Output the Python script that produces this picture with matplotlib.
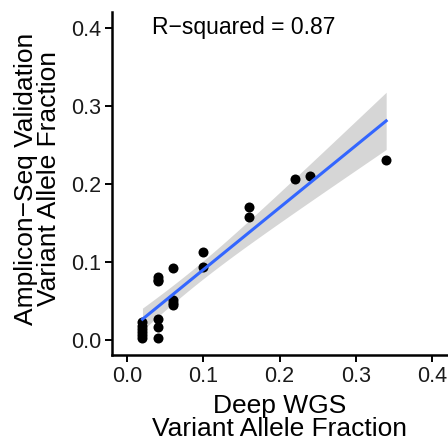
import matplotlib
matplotlib.use("Agg")
import matplotlib.pyplot as plt
import numpy as np

plt.rcParams["font.family"] = ["Liberation Sans", "DejaVu Sans"]

# Deep WGS VAF vs amplicon-seq validation VAF
wgs_vaf = [0.02, 0.02, 0.02, 0.02, 0.02, 0.02,
           0.04, 0.04, 0.04, 0.04, 0.04, 0.04,
           0.06, 0.06, 0.06, 0.06,
           0.10, 0.10,
           0.16, 0.16,
           0.22, 0.24, 0.34]
amp_vaf = [0.002, 0.006, 0.010, 0.014, 0.018, 0.022,
           0.027, 0.016, 0.002, 0.080, 0.075, 0.077,
           0.092, 0.051, 0.044, 0.047,
           0.112, 0.093,
           0.170, 0.157,
           0.206, 0.210, 0.230]
r_squared_text = "R\u2212squared = 0.87"

x = np.array(wgs_vaf)
y = np.array(amp_vaf)
n = len(x)
slope, intercept = np.polyfit(x, y, 1)
resid = y - (slope * x + intercept)
s = np.sqrt(np.sum(resid ** 2) / (n - 2))
xg = np.linspace(x.min(), x.max(), 100)
yg = slope * xg + intercept
se = s * np.sqrt(1.0 / n + (xg - x.mean()) ** 2 / np.sum((x - x.mean()) ** 2))
tcrit = 2.08  # t(0.975, df=21)

fig = plt.figure(figsize=(4.48, 4.44), dpi=100)
ax = fig.add_axes([0.25, 0.20, 0.748, 0.773])
ax.fill_between(xg, yg - tcrit * se, yg + tcrit * se, color="#999999", alpha=0.4, linewidth=0, zorder=1)
ax.scatter(x, y, s=52, color="black", zorder=2, linewidths=0)
ax.plot(xg, yg, color="#3366FF", linewidth=2.2, zorder=3)

ax.text(0.153, 0.40, r_squared_text, ha="center", va="center", fontsize=16.5)

ax.set_xlim(-0.02, 0.42)
ax.set_ylim(-0.02, 0.42)
ticks = [0.0, 0.1, 0.2, 0.3, 0.4]
ax.set_xticks(ticks)
ax.set_yticks(ticks)
ax.set_xticklabels([f"{t:.1f}" for t in ticks])
ax.set_yticklabels([f"{t:.1f}" for t in ticks])
ax.tick_params(labelsize=15.5, colors="black", width=1.4, length=5, pad=3, labelcolor="#1a1a1a")
for side in ["top", "right"]:
    ax.spines[side].set_visible(False)
for side in ["left", "bottom"]:
    ax.spines[side].set_linewidth(1.8)
ax.set_xlabel("Deep WGS\nVariant Allele Fraction", fontsize=19, labelpad=5, linespacing=0.95)
ax.set_ylabel("Amplicon\u2212Seq Validation\nVariant Allele Fraction", fontsize=19, labelpad=4, linespacing=0.95)
ax.yaxis.set_label_coords(-0.152, 0.515)

fig.savefig("out.png", dpi=100)
